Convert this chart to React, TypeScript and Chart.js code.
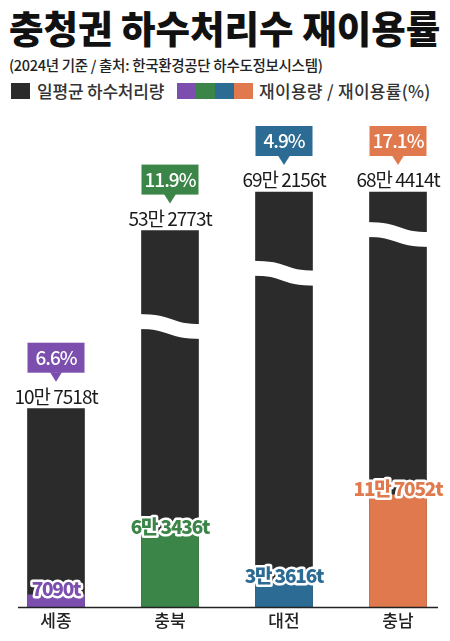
import React, { useEffect, useRef } from "react";
import { Chart, registerables } from "chart.js";

Chart.register(...registerables);

// ---- Data ----
const categories = ["세종", "충북", "대전", "충남"];
const dailyTreated = [107518, 532773, 692156, 684414]; // 일평균 하수처리량 (t)
const reuseVolume = [7090, 63436, 33616, 117052]; // 재이용량 (t)
const reuseRate = [6.6, 11.9, 4.9, 17.1]; // 재이용률 (%)
// The infographic is not drawn to scale: bar lengths as drawn (arbitrary units)
const drawnTotal = [200, 380, 419, 419];
const drawnReuse = [12, 75, 25, 113];
// axis-break marks (drawn units), null = no break
const breakLevels = [null, 283, 337, 376];

const reuseColors = ["#7c4fae", "#3b8548", "#2c6b93", "#e07a4e"];
const barColor = "#2b2b2b";
const FONT = "'Noto Sans CJK KR', 'Noto Sans', sans-serif";

function fmtTon(v: number): string {
  const man = Math.floor(v / 10000);
  const rest = v % 10000;
  return man > 0 ? `${man}만 ${rest}t` : `${rest}t`;
}

const overlayPlugin = {
  id: "overlay",
  afterDatasetsDraw(chart: any) {
    const ctx = chart.ctx;
    const area = chart.chartArea;
    const yScale = chart.scales.y;
    const reuseMeta = chart.getDatasetMeta(0);
    const totalMeta = chart.getDatasetMeta(1);
    ctx.save();
    // axis-break waves
    totalMeta.data.forEach((bar: any, i: number) => {
      const lvl = breakLevels[i];
      if (lvl == null) return;
      const y = yScale.getPixelForValue(lvl);
      const x = bar.x;
      const half = bar.width / 2;
      ctx.beginPath();
      ctx.moveTo(x - half - 3, y - 5);
      ctx.bezierCurveTo(x + 4, y - 5, x - 4, y + 5, x + half + 3, y + 5);
      ctx.strokeStyle = "#ffffff";
      ctx.lineWidth = 15;
      ctx.stroke();
    });
    // baseline
    ctx.beginPath();
    ctx.moveTo(18, Math.round(area.bottom) + 0.5);
    ctx.lineTo(438, Math.round(area.bottom) + 0.5);
    ctx.strokeStyle = "#222";
    ctx.lineWidth = 1.5;
    ctx.stroke();
    // bubbles + totals
    totalMeta.data.forEach((bar: any, i: number) => {
      const x = bar.x;
      const top = bar.y;
      const half = bar.width / 2;
      ctx.fillStyle = reuseColors[i];
      ctx.fillRect(x - half, top - 66, half * 2, 30);
      ctx.beginPath();
      ctx.moveTo(x - 6, top - 36.5);
      ctx.lineTo(x + 6, top - 36.5);
      ctx.lineTo(x, top - 27);
      ctx.closePath();
      ctx.fill();
      ctx.textAlign = "center";
      ctx.textBaseline = "middle";
      (ctx as any).letterSpacing = "-1px";
      ctx.fillStyle = "#ffffff";
      ctx.font = `500 19px ${FONT}`;
      ctx.fillText(`${reuseRate[i]}%`, x, top - 51);
      ctx.fillStyle = "#1a1a1a";
      ctx.font = `400 19px ${FONT}`;
      ctx.fillText(fmtTon(dailyTreated[i]), x, top - 12);
    });
    // reuse labels
    reuseMeta.data.forEach((bar: any, i: number) => {
      const x = bar.x;
      const y = bar.y - 6;
      ctx.font = `800 19px ${FONT}`;
      (ctx as any).letterSpacing = "-1.2px";
      ctx.textAlign = "center";
      ctx.textBaseline = "middle";
      ctx.lineJoin = "round";
      ctx.lineWidth = 5;
      ctx.strokeStyle = "#ffffff";
      const t = fmtTon(reuseVolume[i]);
      ctx.strokeText(t, x, y);
      ctx.fillStyle = reuseColors[i];
      ctx.fillText(t, x, y);
    });
    ctx.restore();
  },
};

function ChartCanvas() {
  const ref = useRef<HTMLCanvasElement | null>(null);
  useEffect(() => {
    if (!ref.current) return;
    const chart = new Chart(ref.current, {
      type: "bar",
      data: {
        labels: categories,
        datasets: [
          {
            label: "재이용량",
            data: drawnReuse,
            backgroundColor: reuseColors,
            barThickness: 57,
            grouped: false,
            clip: false,
          } as any,
          {
            label: "일평균 하수처리량",
            data: drawnTotal,
            backgroundColor: barColor,
            barThickness: 57,
            grouped: false,
            clip: false,
          } as any,
        ],
      },
      options: {
        responsive: false,
        maintainAspectRatio: false,
        animation: false,
        layout: { padding: { top: 87, left: 56, right: 52, bottom: 6 } },
        plugins: { legend: { display: false }, tooltip: { enabled: false }, title: { display: false } },
        scales: {
          x: {
            offset: false,
            grid: { display: false, drawTicks: false },
            border: { display: false },
            ticks: { color: "#222", font: { family: FONT, size: 17, weight: "500" }, padding: 4 },
          },
          y: { display: false, min: 0, max: 419 },
        },
      },
      plugins: [overlayPlugin],
    });
    return () => chart.destroy();
  }, []);
  return (
    <canvas
      ref={ref}
      width={450}
      height={536}
      style={{ position: "absolute", left: 0, top: 105, width: 450, height: 536 }}
    />
  );
}

export default function App() {
  const sw = (bg: string, left: number) => (
    <div style={{ position: "absolute", left, top: 83, width: 19, height: 16, background: bg }} />
  );
  const legendText = {
    position: "absolute" as const,
    top: 79,
    fontSize: 17,
    lineHeight: "23px",
    fontWeight: 500,
    letterSpacing: "-0.2px",
    color: "#333",
    whiteSpace: "nowrap" as const,
  };
  return (
    <div
      style={{
        position: "absolute",
        left: 0,
        top: 0,
        width: 450,
        height: 641,
        background: "#fff",
        fontFamily: FONT,
        overflow: "hidden",
      }}
    >
      <div
        style={{
          position: "absolute",
          left: 9,
          top: 8,
          fontSize: 37.5,
          lineHeight: "38px",
          fontWeight: 900,
          letterSpacing: "0px",
          color: "#111",
          whiteSpace: "nowrap",
        }}
      >
        충청권 하수처리수 재이용률
      </div>
      <div
        style={{
          position: "absolute",
          left: 9,
          top: 55,
          fontSize: 14.5,
          lineHeight: "19px",
          fontWeight: 500,
          letterSpacing: "-0.3px",
          color: "#222",
          whiteSpace: "nowrap",
        }}
      >
        (2024년 기준 / 출처: 한국환경공단 하수도정보시스템)
      </div>
      {sw(barColor, 11)}
      <div style={{ ...legendText, left: 37 }}>일평균 하수처리량</div>
      {sw(reuseColors[0], 177)}
      {sw(reuseColors[1], 196)}
      {sw(reuseColors[2], 215)}
      {sw(reuseColors[3], 234)}
      <div style={{ ...legendText, left: 259, letterSpacing: "0.3px" }}>재이용량 / 재이용률(%)</div>
      <ChartCanvas />
    </div>
  );
}
